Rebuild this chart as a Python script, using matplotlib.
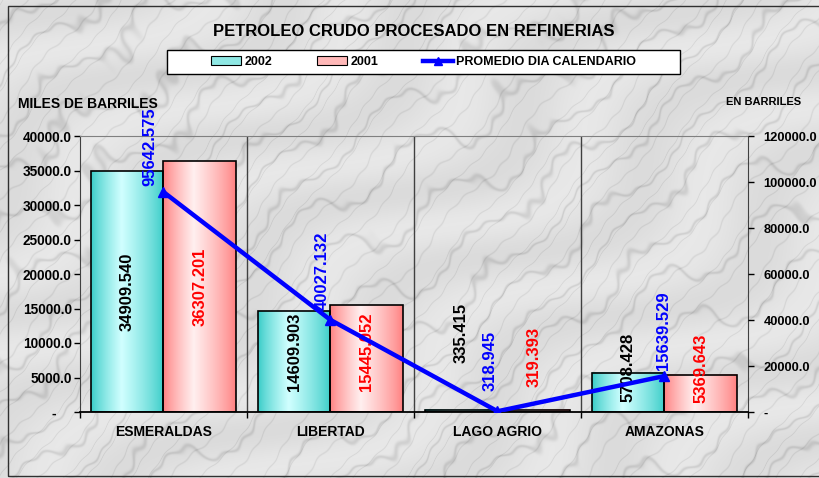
import numpy as np
import matplotlib
matplotlib.use("Agg")
import matplotlib.pyplot as plt
from matplotlib.patches import Rectangle, Patch
from matplotlib.lines import Line2D
from matplotlib.ticker import FuncFormatter, MultipleLocator, FixedLocator

# ---------------- data ----------------
categories = ["ESMERALDAS", "LIBERTAD", "LAGO AGRIO", "AMAZONAS"]
serie_2002 = [34909.540, 14609.903, 335.415, 5708.428]
serie_2001 = [36307.201, 15445.052, 319.393, 5369.643]
promedio_dia = [95642.575, 40027.132, 318.945, 15639.529]
series_names = ["2002", "2001", "PROMEDIO DIA CALENDARIO"]
title = "PETROLEO CRUDO PROCESADO EN REFINERIAS"
left_label = "MILES DE BARRILES"
right_label = "EN BARRILES"

plt.rcParams['font.family'] = ['Liberation Sans', 'DejaVu Sans']
plt.rcParams['font.weight'] = 'bold'

W, H = 820, 478
fig = plt.figure(figsize=(W / 100, H / 100), dpi=100)

# ---------- marble-like background (deterministic texture) ----------
bg = fig.add_axes([0, 0, 1, 1], zorder=-10)
yy, xx = np.mgrid[0:H, 0:W].astype(float)
turb = (np.sin(xx * 0.017 + yy * 0.011) * 0.9 + np.sin(xx * 0.041 - yy * 0.029 + 1.7) * 0.5
        + np.sin(xx * 0.093 + yy * 0.077 + 0.4) * 0.25 + np.sin(xx * 0.21 - yy * 0.17) * 0.12)
v = np.sin((xx + yy * 1.3) * 0.05 + 1.8 * turb)
v2 = np.sin((xx * 1.2 + yy) * 0.11 + 1.2 * turb + 2.0)
mott = 0.5 + 0.5 * np.sin(xx * 0.03 + yy * 0.045 + 2 * np.sin(yy * 0.02 - xx * 0.01))
vein = np.exp(-(v / 0.18) ** 2) * 0.45 + np.exp(-(v2 / 0.12) ** 2) * 0.3
lum = 0.91 - 0.20 * vein - 0.05 * mott
img = np.dstack([lum, lum, lum])
bg.imshow(img, extent=[0, 1, 0, 1], aspect='auto', interpolation='bilinear')
bg.set_xlim(0, 1)
bg.set_ylim(0, 1)
bg.axis('off')
# outer frame
fig.patches.append(Rectangle((8 / W, 2 / H), 1.2, 1 - 8 / H, transform=fig.transFigure,
                             fill=False, edgecolor='#303030', lw=1.0, zorder=-5))

# ---------------- main axes ----------------
ax = fig.add_axes([80 / W, 1 - 412 / H, 668 / W, 276 / H])
ax.set_facecolor('none')
x = np.arange(len(categories))
bw = 0.437

bars02 = ax.bar(x - bw / 2, serie_2002, bw, facecolor='none', edgecolor='black', lw=1.2, zorder=3)
bars01 = ax.bar(x + bw / 2, serie_2001, bw, facecolor='none', edgecolor='black', lw=1.2, zorder=3)


def gradient(dark, light, n=64, peak=0.42):
    t = np.linspace(0, 1, n)
    f = np.where(t < peak, t / peak, 1 - (t - peak) / (1 - peak))
    f = np.clip(f, 0, 1) ** 0.8
    d = np.array(dark)
    l = np.array(light)
    return (d[None, :] * (1 - f[:, None]) + l[None, :] * f[:, None])[None, :, :]


g02 = gradient((0.22, 0.80, 0.78), (0.82, 1.0, 1.0))
g01 = gradient((1.0, 0.50, 0.50), (1.0, 0.94, 0.94))
for bars, g in ((bars02, g02), (bars01, g01)):
    for b in bars:
        x0, w, h = b.get_x(), b.get_width(), b.get_height()
        ax.imshow(g, extent=[x0, x0 + w, 0, h], aspect='auto', zorder=2, interpolation='bilinear')

ax.set_xlim(-0.5, len(categories) - 0.5)
ax.set_ylim(0, 40000)
for xb in np.arange(0.5, len(categories) - 0.5, 1):
    ax.axvline(xb, color='#404040', lw=1.0, zorder=1)

ax.yaxis.set_major_locator(MultipleLocator(5000))
ax.yaxis.set_major_formatter(FuncFormatter(lambda v, p: '-    ' if v == 0 else f'{v:.1f}'))
ax.tick_params(axis='y', direction='out', length=4, width=1, pad=2, labelsize=9.8, colors='black')
ax.set_xticks(x)
ax.set_xticklabels(categories)
ax.xaxis.set_minor_locator(FixedLocator(np.arange(-0.5, len(categories), 1)))
ax.tick_params(axis='x', which='major', length=0, pad=9, labelsize=10)
ax.tick_params(axis='x', which='minor', direction='out', length=4, width=1)
for lab in ax.get_xticklabels() + ax.get_yticklabels():
    lab.set_fontweight('bold')
ax.spines['top'].set_color('#808080')
ax.spines['left'].set_color('#404040')
ax.spines['right'].set_color('#404040')
ax.spines['bottom'].set_color('black')
ax.spines['bottom'].set_linewidth(1.3)

# bar labels (Excel-like positions)
label_y02 = [None, 8700, 11450, 6400]
label_y01 = [None, 8700, 7970, 6400]
for bars, vals, ly, col in ((bars02, serie_2002, label_y02, 'black'),
                            (bars01, serie_2001, label_y01, 'red')):
    for b, v, yl in zip(bars, vals, ly):
        yc = v / 2 if yl is None else yl
        ax.text(b.get_x() + b.get_width() / 2, yc, f'{v:.3f}', rotation=90, ha='center',
                va='center', color=col, fontsize=12, fontweight='bold', zorder=6)

# ---------------- secondary axis ----------------
ax2 = ax.twinx()
ax2.set_ylim(0, 120000)
ax2.yaxis.set_major_locator(MultipleLocator(20000))
ax2.yaxis.set_major_formatter(FuncFormatter(lambda v, p: '-' if v == 0 else f'{v:.1f}'))
ax2.tick_params(axis='y', direction='out', length=4, width=1, pad=7, labelsize=9.3, colors='black')
for lab in ax2.get_yticklabels():
    lab.set_fontweight('bold')
for s in ax2.spines.values():
    s.set_visible(False)
ax2.plot(x, promedio_dia, color='#0000FF', lw=3.2, marker='^', markersize=7, zorder=5,
         solid_capstyle='round')
line_offsets = [(-14, 6), (-8, 10), (-7, 20), (-1, 6)]
for xi, v, off in zip(x, promedio_dia, line_offsets):
    ax2.annotate(f'{v:.3f}', (xi, v), xytext=off, textcoords='offset pixels', rotation=90,
                 ha='center', va='bottom', color='#0000FF', fontsize=12, fontweight='bold',
                 zorder=7)

# ---------------- texts ----------------
fig.text(414 / W, 1 - 31 / H, title, ha='center', va='center', fontsize=12, fontweight='bold')
fig.text(18 / W, 1 - 104 / H, left_label, ha='left', va='center', fontsize=10, fontweight='bold')
fig.text(726 / W, 1 - 102 / H, right_label, ha='left', va='center', fontsize=8, fontweight='bold')

# ---------------- legend ----------------
fig.patches.append(Rectangle((167 / W, 1 - 74 / H), 513 / W, 24 / H, transform=fig.transFigure,
                             facecolor='white', edgecolor='black', lw=1.0, zorder=1))
handles = [Patch(facecolor='#8FE8E4', edgecolor='black', lw=0.8),
           Patch(facecolor='#FFB8B8', edgecolor='black', lw=0.8),
           Line2D([], [], color='#0000FF', lw=3.2, marker='^', markersize=6)]
leg = fig.legend(handles, series_names, loc='center', bbox_to_anchor=(424 / W, 1 - 62 / H),
                 ncol=3, frameon=False, fontsize=9, handlelength=2.4, handleheight=0.7,
                 handletextpad=0.25, columnspacing=3.6, prop={'weight': 'bold', 'size': 9})
leg.set_zorder(2)

fig.savefig('out.png', dpi=100)
